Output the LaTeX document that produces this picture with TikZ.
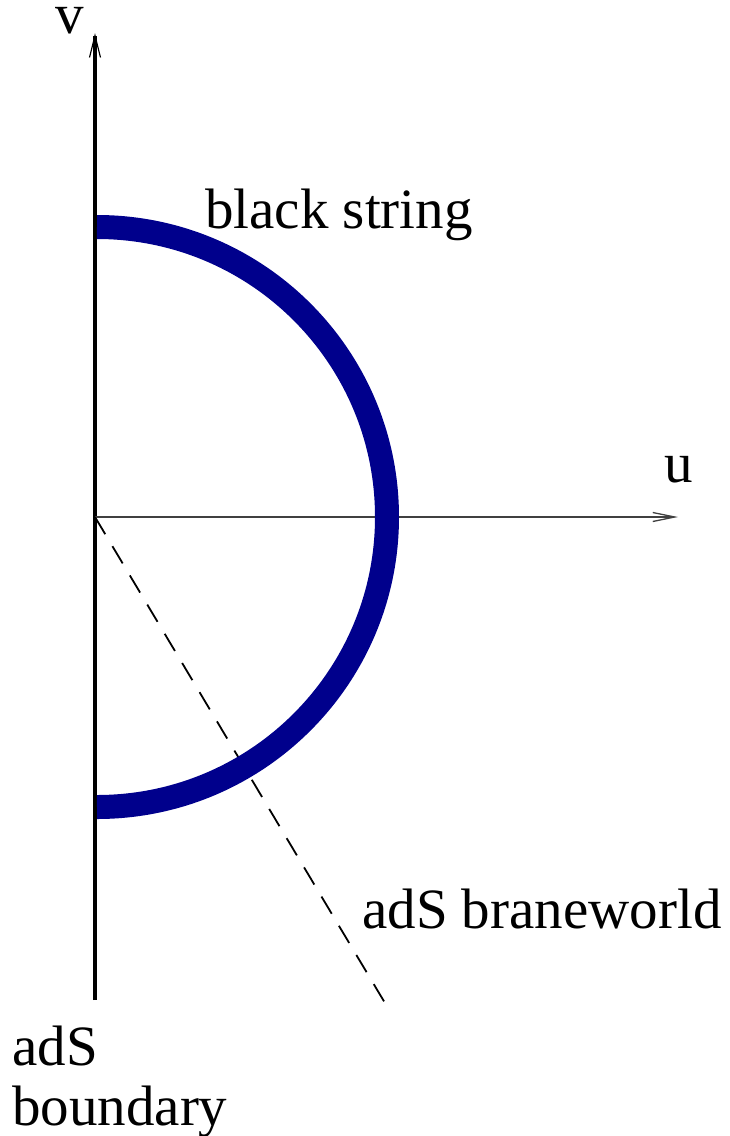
\documentclass[tikz,border=0pt]{standalone}
\usepackage{fontspec}
\setmainfont{Liberation Serif}
\usetikzlibrary{arrows.meta}
\definecolor{stringblue}{RGB}{0,0,140}
\begin{document}
\begin{tikzpicture}[x=1pt, y=-1pt, font=\fontsize{57}{60}\selectfont]
    \useasboundingbox (0,0) rectangle (730,1136);
    \coordinate (origin) at (95,517);
    \coordinate (vtop) at (95,33);
    \coordinate (vbot) at (95,1000);
    \coordinate (utip) at (678,517);
    \coordinate (brane) at (385,1003);

    \draw[line width=4pt, -{Straight Barb[length=22pt, width=11pt, line width=1.2pt]}] (vbot) -- (vtop);
    \draw[line width=1.3pt, black!75, -{Straight Barb[length=22pt, width=9pt, line width=1.3pt]}] (origin) -- (utip);
    \draw[line width=1.8pt, dash pattern=on 20pt off 14pt] (origin) -- (brane);
    \draw[line width=24pt, stringblue] (97,227) arc[start angle=-90, end angle=90, radius=290];

    \node[anchor=base, inner sep=0pt] (vlabel) at (70,33) {v};
    \node[anchor=base, inner sep=0pt] (ulabel) at (679,482) {u};
    \node[anchor=base west, inner sep=0pt] (string) at (205,228) {black string};
    \node[anchor=base west, inner sep=0pt] (braneworld) at (362,928) {adS braneworld};
    \node[anchor=base west, inner sep=0pt] (boundary1) at (12,1065) {adS};
    \node[anchor=base west, inner sep=0pt] (boundary2) at (12,1125) {boundary};
\end{tikzpicture}
\end{document}
